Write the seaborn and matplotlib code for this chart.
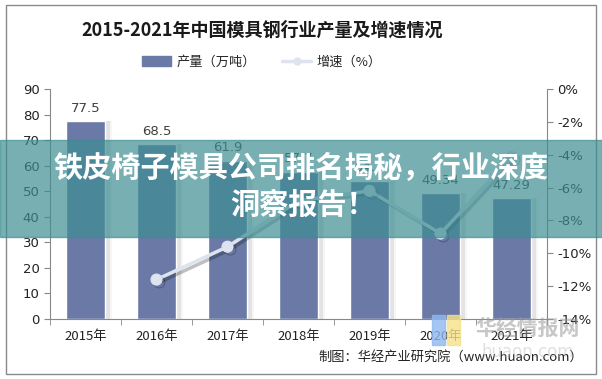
import numpy as np
import pandas as pd
import matplotlib
matplotlib.use("Agg")
import matplotlib.pyplot as plt
import matplotlib.patheffects as pe
from matplotlib.patches import Rectangle
from matplotlib.lines import Line2D
import seaborn as sns

# data
years = ["2015年", "2016年", "2017年", "2018年", "2019年", "2020年", "2021年"]
output = [77.5, 68.5, 61.9, 57.7, 54.1, 49.34, 47.29]
output_labels = ["77.5", "68.5", "61.9", "57.7", "54.1", "49.34", "47.29"]
growth = [np.nan, -11.6, -9.6, -6.8, -6.2, -8.8, -4.15]
left_ticks = [0, 10, 20, 30, 40, 50, 60, 70, 80, 90]
right_ticks = [0, -2, -4, -6, -8, -10, -12, -14]

sns.set_style("white")
plt.rcParams['font.family'] = ['Noto Sans CJK SC', 'DejaVu Sans']

df = pd.DataFrame({"year": years, "output": output, "growth": growth})

fig = plt.figure(figsize=(6.02, 3.79), dpi=100)
ax = fig.add_axes([50 / 602, 1 - 319 / 379, 497 / 602, 230 / 379])

bar_color = "#6a79a6"
sns.barplot(data=df, x="year", y="output", color=bar_color, width=0.56,
            saturation=1, ax=ax, zorder=2)
# soft shadow on the right side of each bar
for p in ax.patches:
    p.set_path_effects([pe.SimplePatchShadow(offset=(5, 0), shadow_rgbFace="#bbbbbb", alpha=0.12),
                        pe.SimplePatchShadow(offset=(3, 0), shadow_rgbFace="#999999", alpha=0.2),
                        pe.Normal()])
for i, (v, lab) in enumerate(zip(output, output_labels)):
    ax.text(i, v + 2.5, lab, ha="center", va="bottom", fontsize=9.5,
            color="#404040", family=["DejaVu Sans"])

ax.set_ylim(0, 90)
ax.set_xlim(-0.5, 6.5)
ax.set_yticks(left_ticks)
ax.set_xlabel("")
ax.set_ylabel("")
ax.tick_params(axis="y", labelsize=9.5, colors="#222222", length=4, direction="out", left=True)
ax.tick_params(axis="x", labelsize=9.5, colors="#222222", length=0, pad=8)
for lab in ax.get_yticklabels():
    lab.set_family(["DejaVu Sans"])
# minor ticks between categories on the x axis
ax.set_xticks(np.arange(-0.5, 7, 1), minor=True)
ax.tick_params(axis="x", which="minor", length=4, color="#888888", bottom=True)
for s in ["top", "right"]:
    ax.spines[s].set_visible(False)
for s in ["left", "bottom"]:
    ax.spines[s].set_color("#888888")
    ax.spines[s].set_linewidth(0.8)
ax.tick_params(axis="y", color="#888888")

ax2 = ax.twinx()
line_df = df.dropna().copy()
line_df["pos"] = [years.index(y) for y in line_df["year"]]
sns.lineplot(data=line_df, x="pos", y="growth", ax=ax2, color="#dde3ef", lw=2.5,
             marker="o", markersize=8, markeredgecolor="#dde3ef", zorder=3,
             path_effects=[pe.SimpleLineShadow(offset=(2, -2), alpha=0.25), pe.Normal()])
ax2.set_ylim(-14, 0)
ax2.set_yticks(right_ticks)
ax2.set_yticklabels([f"{t}%" for t in right_ticks], family=["DejaVu Sans"])
ax2.set_xlim(-0.5, 6.5)
ax2.set_xlabel("")
ax2.set_ylabel("")
ax2.tick_params(axis="y", labelsize=9.5, colors="#222222", length=4, direction="out", right=True)
ax2.tick_params(axis="y", color="#888888")
for s in ["top", "left", "bottom"]:
    ax2.spines[s].set_visible(False)
ax2.spines["right"].set_color("#888888")
ax2.spines["right"].set_linewidth(0.8)

# title and legend
fig.text(262 / 602, 1 - 30 / 379, "2015-2021年中国模具钢行业产量及增速情况", ha="center",
         va="center", fontsize=13, fontweight="bold", color="#1a1a1a")
handles = [Rectangle((0, 0), 1, 1, color=bar_color),
           Line2D([0], [0], color="#dde3ef", lw=2.5, marker="o", markersize=5)]
fig.legend(handles, ["产量（万吨）", "增速（%）"], loc="center", ncol=2,
           bbox_to_anchor=(262 / 602, 1 - 62 / 379), frameon=False, fontsize=9.5,
           handlelength=2.2, columnspacing=2.0, handletextpad=0.4)

# source line
fig.text(583 / 602, 1 - 357 / 379, "制图：华经产业研究院（www.huaon.com）", ha="right",
         va="center", fontsize=9.5, color="#222222")

# watermark
fig.text(528 / 602, 1 - 328 / 379, "华经情报网", ha="center", va="center", fontsize=15,
         fontweight="bold", color="#999999", alpha=0.55)
fig.text(528 / 602, 1 - 352 / 379, "huaon.com", ha="center", va="center", fontsize=12,
         color="#bbbbbb", alpha=0.45, family=["DejaVu Sans"])
fig.patches.append(Rectangle((432 / 602, 1 - 345 / 379), 13 / 602, 30 / 379,
                             transform=fig.transFigure, color="#8fb8f0", alpha=0.8, zorder=5))
fig.patches.append(Rectangle((447 / 602, 1 - 345 / 379), 13 / 602, 30 / 379,
                             transform=fig.transFigure, color="#f5e28a", alpha=0.8, zorder=5))

# outer frame
fig.patches.append(Rectangle((6 / 602, 5 / 379), 590 / 602, 369 / 379, transform=fig.transFigure,
                             fill=False, edgecolor="#8a8a8a", lw=1.0))

# overlay banner
fig.patches.append(Rectangle((0, 1 - 237 / 379), 1, 97 / 379, transform=fig.transFigure,
                             color="#3d8e93", alpha=0.7, zorder=10))
fig.text(301 / 602, 1 - 168 / 379, "铁皮椅子模具公司排名揭秘，行业深度", ha="center",
         va="center", fontsize=21, fontweight="heavy", color="white", zorder=11)
fig.text(303 / 602, 1 - 205 / 379, "洞察报告！", ha="center", va="center", fontsize=21,
         fontweight="heavy", color="white", zorder=11)

fig.savefig("out.png", dpi=100)
